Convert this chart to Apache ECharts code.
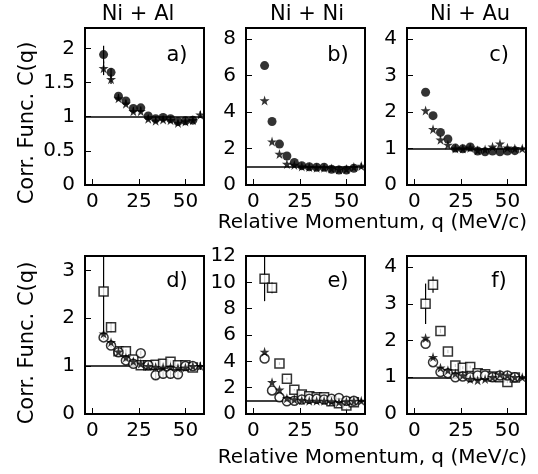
<!DOCTYPE html>
<html>
<head>
<meta charset="utf-8">
<script src="https://cdn.jsdelivr.net/npm/echarts@6/dist/echarts.min.js"></script>
<style>
html, body { margin: 0; padding: 0; background: #fff; }
#chart { width: 538px; height: 474px; }
</style>
</head>
<body>
<div id="chart"></div>
<script>
// q bins (MeV/c)
var qBins = [6, 10, 14, 18, 22, 26, 30, 34, 38, 42, 46, 50, 54];
var qStar = [6, 10, 14, 18, 22, 26, 30, 34, 38, 42, 46, 50, 54, 58];

var titles = ["Ni + Al", "Ni + Ni", "Ni + Au"];
var letters = ["a)", "b)", "c)", "d)", "e)", "f)"];
var yMax = [2.3, 8.6, 4.3, 3.3, 12, 4.3];
var yTicks = [
  [0, 0.5, 1, 1.5, 2],
  [0, 2, 4, 6, 8],
  [0, 1, 2, 3, 4],
  [0, 1, 2, 3],
  [0, 2, 4, 6, 8, 10, 12],
  [0, 1, 2, 3, 4]
];
var xTicks = [0, 25, 50];

// a) Ni + Al
var aCircle = [1.91, 1.65, 1.30, 1.23, 1.12, 1.13, 1.01, 0.97, 0.99, 0.97, 0.93, 0.94, 0.95];
var aCircleErr = [0.13, 0.06, 0.03, 0.02, 0.02, 0.02, 0.02, 0.02, 0.02, 0.02, 0.02, 0.02, 0.02];
var aStar = [1.71, 1.55, 1.27, 1.19, 1.08, 1.08, 0.97, 0.94, 0.96, 0.95, 0.91, 0.93, 0.95, 1.03];
var aStarErr = [0.10, 0.07, 0.03, 0.02, 0.02, 0.02, 0.02, 0.02, 0.02, 0.02, 0.02, 0.02, 0.02, 0.05];

// b) Ni + Ni
var bCircle = [6.54, 3.48, 2.24, 1.59, 1.23, 1.06, 1.00, 0.97, 0.97, 0.86, 0.82, 0.82, 0.92];
var bStar = [4.63, 2.38, 1.70, 1.15, 1.10, 1.02, 0.98, 0.95, 0.95, 0.90, 0.85, 0.88, 0.98, 1.04];
var bStarErr = [0, 0, 0, 0, 0, 0, 0, 0, 0, 0, 0, 0, 0, 0.15];

// c) Ni + Au
var cCircle = [2.54, 1.90, 1.44, 1.26, 1.01, 0.99, 1.04, 0.93, 0.91, 0.93, 0.91, 0.93, 0.94];
var cStar = [2.04, 1.53, 1.24, 1.10, 1.00, 1.00, 1.02, 0.95, 0.97, 1.05, 1.13, 1.02, 1.00, 1.00];
var cStarErr = [0, 0, 0, 0, 0, 0, 0, 0, 0, 0, 0, 0, 0, 0.06];

// d) Ni + Al
var dSquare = [2.56, 1.81, 1.31, 1.31, 1.14, 1.02, 1.02, 1.03, 1.05, 1.09, 1.02, 1.02, 0.97];
var dSquareErr = [0.9, 0.1, 0.05, 0.04, 0.04, 0.03, 0.03, 0.03, 0.03, 0.03, 0.03, 0.03, 0.03];
var dCircle = [1.60, 1.43, 1.29, 1.12, 1.05, 1.27, 1.02, 0.81, 0.84, 0.84, 0.83, 1.00, 1.00];
var dCircleErr = [0.05, 0.04, 0.03, 0.03, 0.03, 0.05, 0.05, 0.1, 0.1, 0.1, 0.08, 0.05, 0.05];
var dStar = [1.68, 1.50, 1.30, 1.18, 1.10, 1.05, 1.00, 0.98, 0.97, 0.98, 0.96, 0.97, 1.00, 1.00];
var dStarErr = [0, 0, 0, 0, 0, 0, 0, 0, 0, 0, 0, 0, 0, 0.08];

// e) Ni + Ni
var eSquare = [10.27, 9.58, 3.83, 2.68, 1.84, 1.48, 1.35, 1.27, 1.27, 0.97, 0.81, 0.64, 0.89];
var eSquareErr = [1.7, 0.4, 0.1, 0.08, 0.06, 0.05, 0.05, 0.05, 0.05, 0.05, 0.05, 0.05, 0.05];
var eCircle = [4.21, 1.79, 1.27, 0.97, 1.00, 1.10, 1.15, 1.15, 1.10, 1.15, 1.22, 1.00, 1.00];
var eStar = [4.72, 2.42, 1.84, 1.20, 1.10, 1.05, 1.00, 1.00, 1.00, 0.95, 0.90, 0.95, 1.00, 1.00];
var eStarErr = [0, 0, 0, 0, 0, 0, 0, 0, 0, 0, 0, 0, 0, 0.15];

// f) Ni + Au
var fSquare = [3.00, 3.52, 2.26, 1.70, 1.32, 1.26, 1.28, 1.11, 1.08, 1.02, 1.00, 0.87, 0.99];
var fSquareErr = [0.55, 0.22, 0.06, 0.05, 0.04, 0.04, 0.04, 0.03, 0.03, 0.03, 0.03, 0.03, 0.03];
var fCircle = [1.91, 1.41, 1.14, 1.11, 1.00, 1.02, 1.00, 1.05, 1.05, 1.00, 1.05, 1.05, 1.00];
var fStar = [2.07, 1.55, 1.26, 1.19, 1.10, 1.05, 0.95, 0.92, 0.95, 1.00, 1.08, 1.05, 1.00, 1.00];
var fStarErr = [0, 0, 0, 0, 0, 0, 0, 0, 0, 0, 0, 0, 0, 0.06];

var FONT = "DejaVu Sans";
var starPath = "path://M50,0 L61,35 L98,35 L68,57 L79,91 L50,70 L21,91 L32,57 L2,35 L39,35 Z";

var gridPos = [[85, 28, 157], [246, 28, 157], [407, 28, 157], [85, 256, 158], [246, 256, 158], [407, 256, 158]];

function pairs(xs, ys, es) {
  return ys.map(function (v, i) { return [xs[i], v, es ? es[i] : 0]; });
}

function renderErr(params, api) {
  var x = api.value(0), y = api.value(1), e = api.value(2);
  if (!e) return null;
  var lo = api.coord([x, y - e]);
  var hi = api.coord([x, y + e]);
  var cs = params.coordSys;
  var y1 = Math.min(lo[1], cs.y + cs.height);
  var y2 = Math.max(hi[1], cs.y);
  return {
    type: "line",
    shape: { x1: lo[0], y1: y1, x2: lo[0], y2: y2 },
    style: { stroke: "#000", lineWidth: 1.2 }
  };
}

var styles = {
  fcircle: { symbol: "circle", size: 9, item: { color: "#000" } },
  star: { symbol: starPath, size: 10, item: { color: "#000" } },
  ocircle: { symbol: "circle", size: 9, item: { color: "#fff", borderColor: "#000", borderWidth: 1.5 } },
  osquare: { symbol: "rect", size: 9, item: { color: "#fff", borderColor: "#000", borderWidth: 1.5 } }
};

// per panel: list of [kind, x, y, err]
var panels = [
  [["star", qStar, aStar, aStarErr], ["fcircle", qBins, aCircle, aCircleErr]],
  [["star", qStar, bStar, bStarErr], ["fcircle", qBins, bCircle, null]],
  [["star", qStar, cStar, cStarErr], ["fcircle", qBins, cCircle, null]],
  [["osquare", qBins, dSquare, dSquareErr], ["ocircle", qBins, dCircle, dCircleErr], ["star", qStar, dStar, dStarErr]],
  [["osquare", qBins, eSquare, eSquareErr], ["ocircle", qBins, eCircle, null], ["star", qStar, eStar, eStarErr]],
  [["osquare", qBins, fSquare, fSquareErr], ["ocircle", qBins, fCircle, null], ["star", qStar, fStar, fStarErr]]
];

var grids = [], xAxes = [], yAxes = [], series = [], graphics = [];

gridPos.forEach(function (g, i) {
  grids.push({ left: g[0], top: g[1], width: 119, height: g[2], show: true, borderColor: "#000", borderWidth: 2 });
  xAxes.push({
    type: "value", gridIndex: i, min: -4, max: 60,
    axisLine: { show: true, onZero: false, lineStyle: { color: "#000", width: 2 } },
    axisTick: { show: true, inside: true, length: 6, customValues: xTicks, lineStyle: { color: "#000", width: 1 } },
    axisLabel: { customValues: xTicks, color: "#000", fontSize: 20, fontFamily: FONT, margin: 7 },
    splitLine: { show: false }
  });
  yAxes.push({
    type: "value", gridIndex: i, min: 0, max: yMax[i],
    axisLine: { show: true, onZero: false, lineStyle: { color: "#000", width: 2 } },
    axisTick: { show: true, inside: true, length: 6, customValues: yTicks[i], lineStyle: { color: "#000", width: 1 } },
    axisLabel: { customValues: yTicks[i], color: "#000", fontSize: 20, fontFamily: FONT, margin: 10 },
    splitLine: { show: false }
  });

  panels[i].forEach(function (s, k) {
    var st = styles[s[0]];
    var d = pairs(s[1], s[2], s[3]);
    if (s[3]) {
      series.push({
        type: "custom", xAxisIndex: i, yAxisIndex: i, renderItem: renderErr,
        encode: { x: 0, y: 1 }, data: d, silent: true, z: 2
      });
    }
    var sc = {
      type: "scatter", xAxisIndex: i, yAxisIndex: i, data: d,
      symbol: st.symbol, symbolSize: st.size, itemStyle: st.item, z: 3, silent: true
    };
    if (k === 0) {
      sc.markLine = {
        silent: true, symbol: "none", label: { show: false },
        lineStyle: { color: "#000", width: 1.5, type: "solid" },
        data: [{ yAxis: 1 }], z: 1
      };
    }
    series.push(sc);
  });

  // panel letter
  graphics.push({
    type: "text", x: g[0] + 92, y: i < 3 ? 56 : 282,
    style: { text: letters[i], font: "21px " + FONT, fill: "#000", textAlign: "center", textVerticalAlign: "middle" }
  });
});

titles.forEach(function (t, i) {
  graphics.push({
    type: "text", x: [138, 307, 470][i], y: 15,
    style: { text: t, font: "21px " + FONT, fill: "#000", textAlign: "center", textVerticalAlign: "middle" }
  });
});

[223, 458].forEach(function (yy) {
  graphics.push({
    type: "text", x: 527, y: yy,
    style: { text: "Relative Momentum, q (MeV/c)", font: "20px " + FONT, fill: "#000", textAlign: "right", textVerticalAlign: "middle" }
  });
});

[123, 343].forEach(function (yy) {
  graphics.push({
    type: "text", x: 28, y: yy, rotation: Math.PI / 2,
    style: { text: "Corr. Func. C(q)", font: "21px " + FONT, fill: "#000", textAlign: "center", textVerticalAlign: "middle" }
  });
});

var myChart = echarts.init(document.getElementById("chart"), null, { renderer: "canvas" });
myChart.setOption({
  animation: false,
  backgroundColor: "#fff",
  grid: grids,
  xAxis: xAxes,
  yAxis: yAxes,
  series: series,
  graphic: graphics
});
</script>
</body>
</html>
